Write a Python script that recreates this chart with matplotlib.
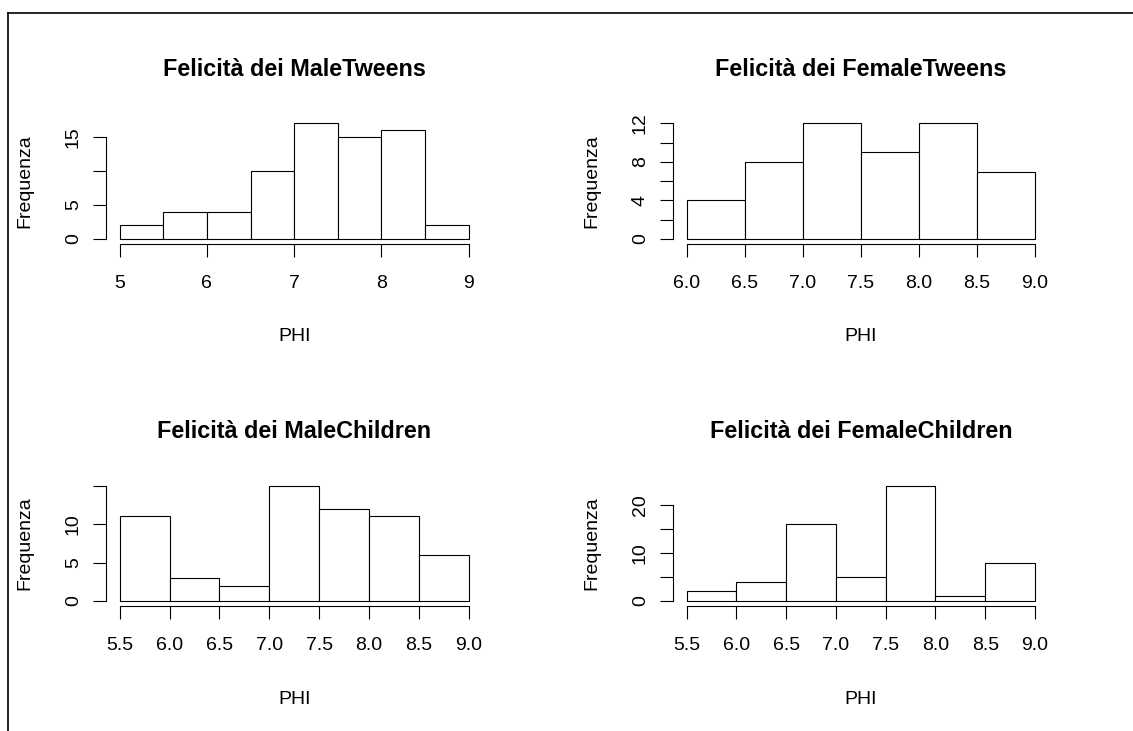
import matplotlib
matplotlib.use("Agg")
import matplotlib.pyplot as plt
from matplotlib.lines import Line2D

plt.rcParams['font.family'] = ['Liberation Sans', 'DejaVu Sans']

# ---- data ----
TITLES = ["Felicità dei MaleTweens", "Felicità dei FemaleTweens",
          "Felicità dei MaleChildren", "Felicità dei FemaleChildren"]
X_LABEL = "PHI"
Y_LABEL = "Frequenza"

male_tweens_edges  = [5.0, 5.5, 6.0, 6.5, 7.0, 7.5, 8.0, 8.5, 9.0]
male_tweens_counts = [2, 4, 4, 10, 17, 15, 16, 2]
male_tweens_xticks = [5, 6, 7, 8, 9]
male_tweens_xlabels = ["5", "6", "7", "8", "9"]
male_tweens_yticks = [0, 5, 10, 15]
male_tweens_ylabels = ["0", "5", "", "15"]

female_tweens_edges  = [6.0, 6.5, 7.0, 7.5, 8.0, 8.5, 9.0]
female_tweens_counts = [4, 8, 12, 9, 12, 7]
female_tweens_xticks = [6.0, 6.5, 7.0, 7.5, 8.0, 8.5, 9.0]
female_tweens_xlabels = ["6.0", "6.5", "7.0", "7.5", "8.0", "8.5", "9.0"]
female_tweens_yticks = [0, 2, 4, 6, 8, 10, 12]
female_tweens_ylabels = ["0", "", "4", "", "8", "", "12"]

male_children_edges  = [5.5, 6.0, 6.5, 7.0, 7.5, 8.0, 8.5, 9.0]
male_children_counts = [11, 3, 2, 15, 12, 11, 6]
male_children_xticks = [5.5, 6.0, 6.5, 7.0, 7.5, 8.0, 8.5, 9.0]
male_children_xlabels = ["5.5", "6.0", "6.5", "7.0", "7.5", "8.0", "8.5", "9.0"]
male_children_yticks = [0, 5, 10, 15]
male_children_ylabels = ["0", "5", "10", ""]

female_children_edges  = [5.5, 6.0, 6.5, 7.0, 7.5, 8.0, 8.5, 9.0]
female_children_counts = [2, 4, 16, 5, 24, 1, 8]
female_children_xticks = [5.5, 6.0, 6.5, 7.0, 7.5, 8.0, 8.5, 9.0]
female_children_xlabels = ["5.5", "6.0", "6.5", "7.0", "7.5", "8.0", "8.5", "9.0"]
female_children_yticks = [0, 5, 10, 15, 20]
female_children_ylabels = ["0", "", "10", "", "20"]

PANELS = [
    (male_tweens_edges, male_tweens_counts, male_tweens_xticks, male_tweens_xlabels,
     male_tweens_yticks, male_tweens_ylabels),
    (female_tweens_edges, female_tweens_counts, female_tweens_xticks, female_tweens_xlabels,
     female_tweens_yticks, female_tweens_ylabels),
    (male_children_edges, male_children_counts, male_children_xticks, male_children_xlabels,
     male_children_yticks, male_children_ylabels),
    (female_children_edges, female_children_counts, female_children_xticks, female_children_xlabels,
     female_children_yticks, female_children_ylabels),
]

AX_POS = [
    [0.0933, 0.6668, 0.3327, 0.1707],
    [0.5938, 0.6668, 0.3320, 0.1707],
    [0.0933, 0.1715, 0.3327, 0.1705],
    [0.5938, 0.1715, 0.3320, 0.1705],
]

LW = 0.8
FS = 14

fig = plt.figure(figsize=(11.33, 7.31), dpi=100)
fig.patch.set_facecolor("white")

for pos, title, (edges, counts, xt, xl, yt, yl) in zip(AX_POS, TITLES, PANELS):
    ax = fig.add_axes(pos)
    widths = [b - a for a, b in zip(edges[:-1], edges[1:])]
    ax.bar(edges[:-1], counts, width=widths, align='edge',
           facecolor='white', edgecolor='black', linewidth=LW)

    span = edges[-1] - edges[0]
    ax.set_xlim(edges[0] - 0.04 * span, edges[-1] + 0.04 * span)
    top = max(counts)
    ax.set_ylim(-0.04 * top, top * 1.04)

    for s in ("top", "right"):
        ax.spines[s].set_visible(False)
    ax.spines["left"].set_bounds(yt[0], yt[-1])
    ax.spines["bottom"].set_bounds(xt[0], xt[-1])
    ax.spines["left"].set_linewidth(LW)
    ax.spines["bottom"].set_linewidth(LW)

    ax.set_xticks(xt)
    ax.set_xticklabels(xl)
    ax.set_yticks(yt)
    ax.set_yticklabels(yl, rotation=90, va='center')
    ax.tick_params(axis='both', direction='out', length=9.2, width=LW,
                   labelsize=FS, colors='black')
    ax.tick_params(axis='x', pad=13.5)
    ax.tick_params(axis='y', pad=8)

    ax.set_title(title, fontsize=16.8, fontweight='bold', pad=31)
    ax.annotate(X_LABEL, xy=(0.5, 0), xycoords='axes fraction',
                xytext=(0, -70.5), textcoords='offset points',
                ha='center', va='baseline', fontsize=FS)
    ax.annotate(Y_LABEL, xy=(0, 0.5), xycoords='axes fraction',
                xytext=(-58.5, 0), textcoords='offset points',
                ha='center', va='center', rotation=90, fontsize=FS)

# frame lines of the screenshot (top and left only)
fig.add_artist(Line2D([0.0073, 1.0], [0.9829, 0.9829], transform=fig.transFigure,
                      color='black', linewidth=1.2))
fig.add_artist(Line2D([0.0073, 0.0073], [0.0, 0.9829], transform=fig.transFigure,
                      color='black', linewidth=1.2))

fig.savefig("out.png", dpi=100)
